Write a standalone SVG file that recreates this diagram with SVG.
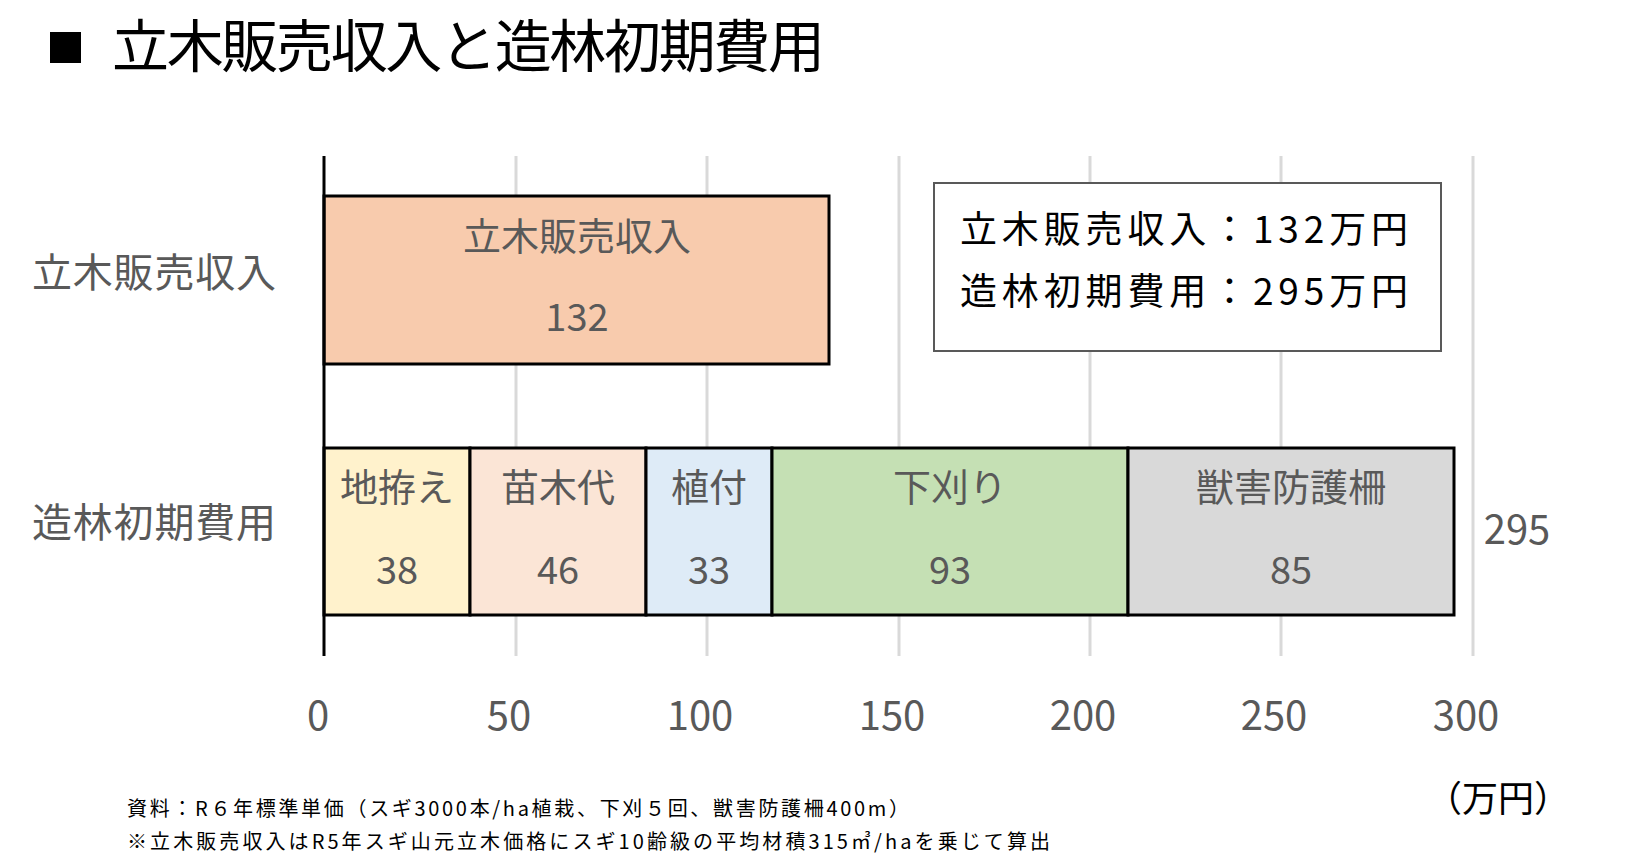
<svg xmlns="http://www.w3.org/2000/svg" width="1646" height="868" viewBox="0 0 1646 868">
<style>
text{font-family:"Noto Sans CJK JP","Noto Sans",sans-serif;fill:#595959}
.bar{stroke:#000;stroke-width:3}
.grid{stroke:#d9d9d9;stroke-width:3}
.lbl{font-size:38px;text-anchor:middle}
.tick{font-size:40px;text-anchor:middle}
.cat{font-size:40px}
.note{font-size:20px;fill:#000}
</style>
<rect width="1646" height="868" fill="#fff"/>
<rect x="50" y="32" width="31" height="31" fill="#000"/>
<text x="112" y="67" font-size="57" textLength="713" style="fill:#000">立木販売収入と造林初期費用</text>
<g id="grid">
<line class="grid" x1="516" y1="156" x2="516" y2="656"/>
<line class="grid" x1="707" y1="156" x2="707" y2="656"/>
<line class="grid" x1="899" y1="156" x2="899" y2="656"/>
<line class="grid" x1="1090" y1="156" x2="1090" y2="656"/>
<line class="grid" x1="1281" y1="156" x2="1281" y2="656"/>
<line class="grid" x1="1473" y1="156" x2="1473" y2="656"/>
</g>
<g id="ticks">
<text class="tick" x="318" y="730">0</text>
<text class="tick" x="509" y="730">50</text>
<text class="tick" x="700" y="730">100</text>
<text class="tick" x="892" y="730">150</text>
<text class="tick" x="1083" y="730">200</text>
<text class="tick" x="1274" y="730">250</text>
<text class="tick" x="1466" y="730">300</text>
</g>
<text class="cat" x="32" y="287" textLength="244">立木販売収入</text>
<text class="cat" x="32" y="537" textLength="244">造林初期費用</text>
<g id="income"><rect class="bar" x="324" y="196" width="505" height="168" fill="#F8CBAD"/>
<text class="lbl" x="577" y="250">立木販売収入</text><text class="lbl" x="577" y="331">132</text></g>
<g id="seg1"><rect class="bar" x="324" y="448" width="146" height="167" fill="#FFF2CC"/>
<text class="lbl" x="397" y="501">地拵え</text><text class="lbl" x="397" y="584">38</text></g>
<g id="seg2"><rect class="bar" x="470" y="448" width="176" height="167" fill="#FBE5D6"/>
<text class="lbl" x="558" y="501">苗木代</text><text class="lbl" x="558" y="584">46</text></g>
<g id="seg3"><rect class="bar" x="646" y="448" width="126" height="167" fill="#DEEBF7"/>
<text class="lbl" x="709" y="501">植付</text><text class="lbl" x="709" y="584">33</text></g>
<g id="seg4"><rect class="bar" x="772" y="448" width="356" height="167" fill="#C5E0B4"/>
<text class="lbl" x="950" y="501">下刈り</text><text class="lbl" x="950" y="584">93</text></g>
<g id="seg5"><rect class="bar" x="1128" y="448" width="326" height="167" fill="#D9D9D9"/>
<text class="lbl" x="1291" y="501">獣害防護柵</text><text class="lbl" x="1291" y="584">85</text></g>
<text x="1517" y="544" font-size="40" text-anchor="middle">295</text>
<line x1="324" y1="156" x2="324" y2="656" stroke="#000" stroke-width="3"/>
<g id="legend"><rect x="934" y="183" width="507" height="168" fill="#fff" stroke="#595959" stroke-width="2"/>
<text x="960" y="243" font-size="37" textLength="448" style="fill:#000">立木販売収入：132万円</text>
<text x="960" y="305" font-size="37" textLength="448" style="fill:#000">造林初期費用：295万円</text></g>
<text x="1498" y="812" font-size="36" text-anchor="middle" style="fill:#000">（万円）</text>
<text class="note" x="127" y="816" textLength="782">資料：R６年標準単価（スギ3000本/ha植栽、下刈５回、獣害防護柵400m）</text>
<text class="note" x="127" y="849" textLength="923">※立木販売収入はR5年スギ山元立木価格にスギ10齢級の平均材積315㎥/haを乗じて算出</text>
</svg>
